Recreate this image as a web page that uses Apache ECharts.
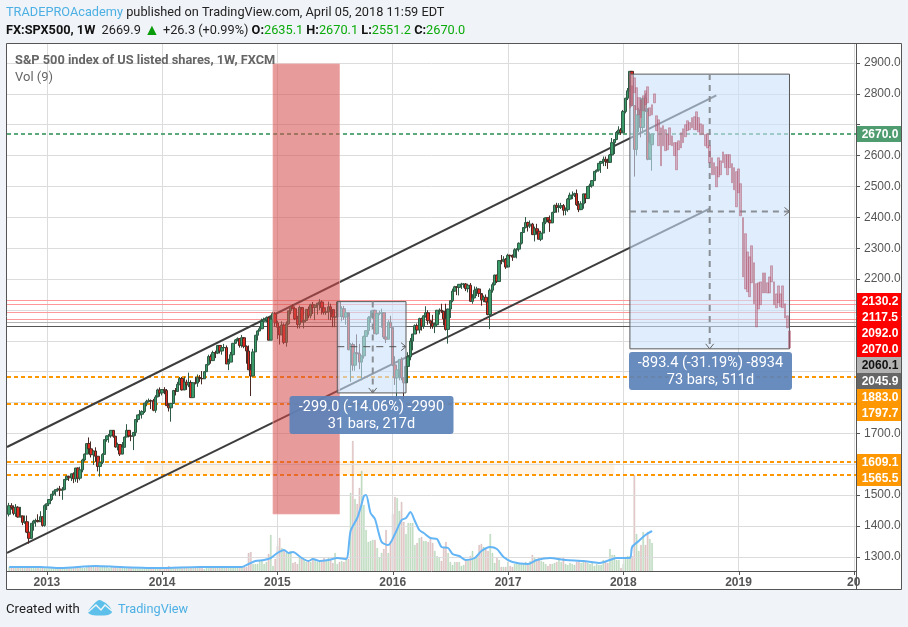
<!DOCTYPE html>
<html>
<head>
<meta charset="utf-8">
<title>FX:SPX500 1W</title>
<script src="https://cdn.jsdelivr.net/npm/echarts@6/dist/echarts.min.js"></script>
<style>
  html, body { margin: 0; padding: 0; background: #f0f3f7; }
  #chart { width: 908px; height: 627px; }
</style>
</head>
<body>
<div id="chart"></div>
<script>
// weekly bars, first category is the week of 2012-09-03 (no bar drawn on it)
const opens = [
  1438,1466,1460,1441,1461,1429,1433,1412,1414,1380,1360,1409,1416,1418,1414,1430,
  1402,1466,1472,1486,1503,1513,1518,1520,1516,1518,1551,1561,1556,1569,1553,1588,1555,1582,1614,1633,1667,1650,1631,1643,1626,1593,1606,1632,1680,1692,1692,1710,1691,1656,1664,1633,1655,1688,1710,1692,1691,1703,1745,1760,1762,1771,1798,1804,1806,1805,1775,1818,
  1841,1831,1842,1839,1790,1783,1797,1839,1836,1859,1878,1841,1866,1857,1865,1816,1864,1863,1881,1878,1877,1900,1923,1949,1936,1962,1960,1985,1967,1978,1978,1925,1931,1955,1992,2003,2007,1985,2010,1982,1967,1906,1886,1964,2018,2032,2039,2063,2068,2075,2002,2070,
  2088,2058,2044,2019,2051,1995,2055,2097,2110,2104,2071,2053,2108,2061,2066,2102,2081,2117,2108,2116,2122,2126,2107,2092,2094,2110,2101,2077,2077,2126,2079,2104,2077,2091,1971,1988,1921,1961,1958,1931,1951,2014,2033,2075,2079,2099,2023,2089,2090,2091,2012,2005,
  2060,2043,1922,1880,1906,1940,1880,1864,1917,1948,1999,2022,2049,2035,2072,2047,2081,2091,2065,2057,2046,2052,2099,2099,2096,2071,2037,2103,2130,2161,2175,2173,2183,2184,2184,2169,2180,2128,2139,2164,2168,2153,2133,2141,2126,2085,2164,2182,2213,2192,2260,2258,2264,
  2239,2277,2275,2271,2295,2297,2316,2351,2367,2383,2372,2378,2344,2363,2355,2329,2349,2384,2399,2391,2382,2416,2439,2432,2433,2438,2423,2425,2459,2472,2472,2477,2441,2425,2444,2476,2461,2500,2502,2519,2549,2553,2575,2581,2588,2582,2578,2602,2642,2652,2675,2683,
  2674,2743,2786,2810,2873,2762,2620,2732,2747,2691,2786,2752,2588,2635
];
const closes = [
  1466,1460,1441,1461,1429,1433,1412,1414,1380,1360,1409,1416,1418,1414,1430,1402,
  1466,1472,1486,1503,1513,1518,1520,1516,1518,1551,1561,1556,1569,1553,1588,1555,1582,1614,1633,1667,1650,1631,1643,1626,1593,1606,1632,1680,1692,1692,1710,1691,1656,1664,1633,1655,1688,1710,1692,1691,1703,1745,1760,1762,1771,1798,1804,1806,1805,1775,1818,1841,
  1831,1842,1839,1790,1783,1797,1839,1836,1859,1878,1841,1866,1857,1865,1816,1864,1863,1881,1878,1877,1900,1923,1949,1936,1962,1960,1985,1967,1978,1978,1925,1931,1955,1992,2003,2007,1985,2010,1982,1967,1906,1886,1964,2018,2032,2039,2063,2068,2075,2002,2070,2088,
  2058,2044,2019,2051,1995,2055,2097,2110,2104,2071,2053,2108,2061,2066,2102,2081,2117,2108,2116,2122,2126,2107,2092,2094,2110,2101,2077,2077,2126,2079,2104,2077,2091,1971,1988,1921,1961,1958,1931,1951,2014,2033,2075,2079,2099,2023,2089,2090,2091,2012,2005,2060,
  2043,1922,1880,1906,1940,1880,1864,1917,1948,1999,2022,2049,2035,2072,2047,2081,2091,2065,2057,2046,2052,2099,2099,2096,2071,2037,2103,2130,2161,2175,2173,2183,2184,2184,2169,2180,2128,2139,2164,2168,2153,2133,2141,2126,2085,2164,2182,2213,2192,2260,2258,2264,2239,
  2277,2275,2271,2295,2297,2316,2351,2367,2383,2372,2378,2344,2363,2355,2329,2349,2384,2399,2391,2382,2416,2439,2432,2433,2438,2423,2425,2459,2472,2472,2477,2441,2425,2444,2476,2461,2500,2502,2519,2549,2553,2575,2581,2588,2582,2578,2602,2642,2652,2675,2683,2674,
  2743,2786,2810,2873,2762,2620,2732,2747,2691,2786,2752,2588,2641,2670
];
const highs = [
  1475,1474,1467,1471,1464,1462,1433,1434,1434,1386,1409,1420,1424,1438,1448,1431,
  1470,1473,1486,1504,1514,1518,1524,1530,1526,1552,1564,1563,1570,1574,1588,1590,1592,1618,1635,1668,1687,1674,1645,1655,1626,1615,1636,1680,1694,1698,1710,1709,1690,1670,1665,1672,1690,1730,1711,1698,1705,1746,1760,1776,1775,1799,1809,1813,1810,1812,1824,1845,
  1849,1843,1850,1844,1798,1798,1841,1847,1867,1883,1883,1884,1874,1897,1872,1865,1884,1891,1889,1902,1902,1925,1955,1956,1968,1968,1986,1985,1984,1990,1985,1942,1964,1993,2006,2011,2009,2019,2006,1985,1985,1925,1974,2019,2034,2046,2072,2075,2079,2075,2078,2094,
  2093,2065,2046,2063,2057,2063,2097,2111,2119,2105,2081,2114,2101,2083,2102,2111,2120,2126,2118,2123,2135,2131,2115,2107,2127,2120,2085,2081,2129,2133,2112,2113,2103,2077,1993,1994,1976,2021,1990,1953,2017,2034,2080,2098,2100,2100,2097,2098,2104,2093,2076,2067,
  2081,2038,1950,1908,1940,1947,1882,1918,1963,2009,2022,2053,2056,2075,2075,2083,2112,2099,2066,2084,2059,2100,2105,2120,2094,2120,2104,2132,2169,2178,2177,2183,2188,2187,2187,2184,2187,2151,2176,2175,2169,2149,2147,2150,2128,2170,2189,2214,2214,2260,2278,2274,2268,
  2282,2279,2280,2300,2300,2319,2352,2368,2401,2386,2390,2382,2370,2379,2356,2352,2398,2400,2400,2406,2418,2441,2447,2446,2447,2443,2432,2463,2480,2484,2480,2490,2453,2452,2477,2474,2501,2509,2520,2550,2555,2576,2583,2597,2597,2590,2605,2657,2652,2680,2695,2689,
  2748,2787,2819,2873,2873,2763,2732,2755,2789,2787,2802,2741,2675,2670
];
const lows = [
  1431,1453,1435,1430,1427,1428,1403,1407,1377,1343,1358,1385,1398,1412,1414,1398,
  1398,1452,1465,1481,1498,1498,1512,1497,1485,1516,1548,1546,1546,1539,1543,1540,1548,1574,1609,1633,1635,1622,1598,1608,1577,1560,1601,1633,1673,1670,1686,1686,1654,1645,1627,1634,1656,1688,1687,1675,1646,1692,1736,1756,1748,1766,1788,1800,1779,1772,1767,1819,
  1819,1823,1827,1790,1771,1738,1798,1823,1836,1856,1839,1840,1841,1850,1815,1816,1859,1851,1867,1859,1878,1899,1920,1926,1935,1944,1957,1959,1955,1979,1925,1905,1931,1955,1990,1998,1978,1978,1976,1926,1906,1821,1886,1964,2001,2031,2040,2064,2060,2002,2002,2070,
  2047,2006,1988,2019,1989,1981,2052,2086,2103,2067,2040,2040,2061,2040,2067,2073,2073,2087,2067,2085,2099,2085,2085,2084,2068,2067,2044,2044,2077,2079,2063,2068,2052,1970,1867,1903,1903,1937,1908,1872,1942,2002,2020,2058,2072,2022,2019,2083,2042,2006,1993,2005,
  2043,1918,1857,1812,1872,1872,1810,1864,1891,1937,1969,2022,2022,2024,2033,2039,2075,2052,2039,2039,2025,2052,2085,2090,2050,2033,1991,2074,2125,2159,2148,2147,2168,2172,2161,2157,2127,2120,2138,2145,2142,2114,2125,2125,2083,2038,2156,2179,2187,2192,2248,2254,2233,
  2246,2265,2259,2272,2267,2289,2312,2351,2364,2354,2365,2344,2322,2344,2329,2323,2349,2378,2384,2353,2382,2414,2415,2416,2427,2406,2407,2418,2452,2459,2466,2437,2417,2428,2428,2446,2460,2491,2496,2520,2545,2548,2544,2566,2566,2557,2581,2606,2605,2650,2670,2667,
  2682,2737,2780,2808,2759,2532,2600,2676,2659,2672,2741,2585,2594,2551
];
const volumes = [
  4,3,4,4,3,4,3,4,4,4, 3,3,3,4,3,3,4,3,4,4, 4,3,4,4,3,3,3,3,4,3, 3,4,4,3,3,4,5,4,4,5,
  4,5,5,4,4,3,4,4,4,3, 4,3,3,3,4,4,3,4,3,3, 3,3,4,3,4,4,3,3,3,2, 3,4,5,4,3,4,4,4,4,3,
  4,4,3,3,3,4,3,3,2,3, 4,3,3,4,3,3,4,3,3,3, 3,3,4,3,4,4,4,4,18,19, 7,7,7,10,11,7,9,17,36,5,
  12,25,33,23,21,18,18,20,8,9, 7,15,13,12,9,10,9,13,12,9, 9,9,13,10,13,11,8,18,7,9, 10,9,12,12,78,130,72,67,83,100,
  66,41,29,30,31,31,23,14,18,22, 41,18,30,57,74,73,60,69,49,37, 48,48,48,26,28,33,34,30,30,29, 32,28,20,15,14,10,23,29,18,9,
  6,9,9,9,5,6,11,11,15,20, 14,16,26,27,24,23,20,37,18,8, 13,11,4,4,4,9,5,4,7,8, 8,7,7,9,7,10,16,14,12,13,
  10,9,7,5,7,7,8,9,13,9, 13,7,6,8,7,6,9,11,8,9, 10,8,7,9,5,7,6,6,11,10, 8,22,16,16,11,11,3,7,14,15,
  15,15,96,37,20,26,39,26,39,32,28
];
// Vol (9) line, read at the turning points
const volMaWeeks = [1,15,24,40,51,69,87,100,106,109,112,116,119,122,125,127,129,133,136,138,141,145,149,153,155,158,160,161,162,164,166,169,172,175,178,180,182,184,186,188,191,194,196,199,201,204,207,211,214,218,221,224,228,235,239,245,252,260,267,272,275,281,282,285,288,291];
const volMaValues = [4,4,3,5,4,3,4,4,4,7,10,11,13,18,21,18,19,13,10,12,10,11,13,12,40,53,67,75,76,58,52,29,26,37,51,53,59,50,41,38,33,32,24,23,17,15,11,13,20,24,22,14,9,7,11,13,11,10,8,11,13,13,24,30,36,40];

// projected bars pasted into the big box, first one sits on week index 281
const ghostStart = 281;
const ghostHighs = [2869,2826,2852,2820,2788,2781,2794,2810,2823,2755,2765,2800,2729,2716,2690,2697,2684,2668,2690,2664,2642,2642,2648,2674,2687,2700,2713,2707,2723,2726,2742,2723,2703,2700,2668,2671,2632,2593,2577,2564,2593,2583,2612,2603,2603,2603,2574,2561,2548,2557,2509,2399,2347,2288,2272,2308,2253,2185,2188,2191,2220,2220,2188,2207,2243,2191,2152,2178,2152,2178,2120,2081,2032];
const ghostLows = [2755,2762,2804,2749,2732,2723,2745,2765,2771,2729,2732,2771,2681,2632,2567,2632,2616,2619,2635,2632,2600,2554,2619,2625,2642,2661,2681,2684,2690,2684,2684,2677,2668,2668,2632,2625,2577,2538,2538,2499,2531,2538,2577,2561,2538,2561,2512,2489,2434,2480,2405,2207,2168,2159,2143,2188,2120,2045,2103,2117,2155,2155,2155,2155,2191,2117,2107,2123,2110,2107,2074,2042,1977];

const priceTicks = [1300,1400,1500,1600,1700,1800,1900,2000,2100,2200,2300,2400,2500,2600,2700,2800,2900];
const priceLabels = [1300,1400,1500,1700,2200,2300,2400,2500,2600,2800,2900];
const yearWeeks = ['2013-01-07','2014-01-06','2015-01-05','2016-01-04','2017-01-02','2018-01-01','2018-12-31','2019-12-30'];
const yearNames = ['2013','2014','2015','2016','2017','2018','2019','20'];

const redLevels = [2130.2,2117.5,2092.0,2070.0];
const orangeLevels = [1883.0,1797.7,1609.1,1565.5];
const greenLevel = 2670.0;
const greyLevel = 2060.1;
const darkLevel = 2045.9;

const tagValues = ['2670.0','2130.2','2117.5','2092.0','2070.0','2060.1','2045.9','1883.0','1797.7','1609.1','1565.5'];
const tagTops = [126,293,309,325,341,357,373,389,405,454,470];
const tagFills = ['#4f9c70','#ff0000','#ff0000','#ff0000','#ff0000','#b2b2b2','#666666','#ff9800','#ff9800','#ff9800','#ff9800'];

const upperChannel = [[0,1656],[320,2795]];
const lowerChannel = [[0,1313],[317,2428]];
const redZone = { from: 120, to: 149.6, high: 2897, low: 1439 };
const orangeBand = { from: 62, to: 274, high: 1609.1, low: 1565.5 };
const measureBoxes = [
  { from: 148.8, to: 179.8, high: 2127, low: 1831.2, midWeek: 164.5, midPrice: 1981 },
  { from: 280.8, to: 353.3, high: 2864, low: 1974, midWeek: 317, midPrice: 2419 }
];

const weeks = [];
for (let i = 0; i < 384; i++) {
  weeks.push(new Date(Date.UTC(2012, 8, 3 + i * 7)).toISOString().slice(0, 10));
}

const candleData = ['-'].concat(opens.map((o, i) => [o, closes[i], lows[i], highs[i]]));
const ghostData = new Array(ghostStart).fill('-').concat(ghostHighs.map((h, i) => [h, ghostLows[i], ghostLows[i], h]));
const volumeData = ['-'].concat(volumes.map((v, i) => ({
  value: v,
  itemStyle: closes[i] >= opens[i]
    ? { color: 'rgba(76,175,80,.2)', borderColor: 'rgba(60,140,70,.32)' }
    : { color: 'rgba(220,120,120,.22)', borderColor: 'rgba(140,80,80,.36)' }
})));

const uiFont = 'Roboto, "Noto Sans", sans-serif';
const axisFont = '"Liberation Sans", Arial, sans-serif';

function isYearWeek(index, value) {
  return yearWeeks.indexOf(value) >= 0;
}

function rectItem(api, box, style) {
  const a = api.coord([box.from, box.high]);
  const b = api.coord([box.to, box.low]);
  return { type: 'rect', shape: { x: a[0], y: a[1], width: b[0] - a[0], height: b[1] - a[1] }, style: style };
}

function renderMeasureBox(params, api) {
  const box = measureBoxes[params.dataIndex];
  const tl = api.coord([box.from, box.high]);
  const br = api.coord([box.to, box.low]);
  const mid = api.coord([box.midWeek, box.midPrice]);
  const dash = { stroke: '#8a8f96', lineWidth: 2, lineDash: [6, 5], fill: 'none' };
  const hDash = params.dataIndex === 0 ? { stroke: '#555', lineWidth: 1, lineDash: [7, 6], fill: 'none' } : dash;
  const chevron = { stroke: '#666', lineWidth: 1, fill: 'none' };
  return {
    type: 'group',
    children: [
      rectItem(api, box, { fill: 'rgba(203,225,250,.6)', stroke: '#5a5a5a', lineWidth: 1 }),
      { type: 'line', shape: { x1: tl[0], y1: mid[1], x2: br[0], y2: mid[1] }, style: hDash },
      { type: 'line', shape: { x1: mid[0], y1: tl[1], x2: mid[0], y2: br[1] }, style: dash },
      { type: 'polyline', shape: { points: [[br[0] - 5, mid[1] - 4], [br[0], mid[1]], [br[0] - 5, mid[1] + 4]] }, style: chevron },
      { type: 'polyline', shape: { points: [[mid[0] - 4, br[1] - 5], [mid[0], br[1]], [mid[0] + 4, br[1] - 5]] }, style: chevron }
    ]
  };
}

function levelLine(value, color, width, type) {
  return { yAxis: value, lineStyle: { color: color, width: width, type: type } };
}

const levelLines = redLevels.map(v => levelLine(v, '#ff9999', 1, 'solid'))
  .concat(orangeLevels.map(v => levelLine(v, '#ff9800', 2, [4, 3])))
  .concat([
    levelLine(greenLevel, '#5ea97c', 2, [4, 3]),
    levelLine(greyLevel, '#b2b2b2', 1, 'solid'),
    levelLine(darkLevel, '#555555', 1, 'solid')
  ]);

const gridLineStyle = { color: '#dcdcdc', width: 1, type: 'solid' };
const gridLines = priceTicks.map(p => ({ yAxis: p, lineStyle: gridLineStyle }))
  .concat(yearWeeks.map(w => ({ xAxis: w, lineStyle: gridLineStyle })));

function textEl(x, y, text, font, fill, z) {
  return { type: 'text', x: x, y: y, z: z || 50, silent: true, style: { text: text, font: font, fill: fill, verticalAlign: 'middle' } };
}

function labelBox(x, y, w, h, line1, line2) {
  return [
    { type: 'rect', z: 60, silent: true, shape: { x: x, y: y, width: w, height: h, r: 3 }, style: { fill: 'rgba(92,130,186,.92)' } },
    { type: 'text', z: 61, silent: true, x: x + w / 2, y: y + 11.5, style: { text: line1, font: '14.5px ' + uiFont, fill: '#fff', align: 'center', verticalAlign: 'middle' } },
    { type: 'text', z: 61, silent: true, x: x + w / 2, y: y + 28, style: { text: line2, font: '14.5px ' + uiFont, fill: '#fff', align: 'center', verticalAlign: 'middle' } }
  ];
}

const tagElements = [];
tagValues.forEach((t, i) => {
  tagElements.push({ type: 'rect', z: 70, silent: true, shape: { x: 857, y: tagTops[i], width: 44, height: 16 }, style: { fill: tagFills[i] } });
  tagElements.push({ type: 'text', z: 71, silent: true, x: 880, y: tagTops[i] + 8.5, style: { text: t, font: 'bold 12px ' + axisFont, fill: t === '2060.1' ? '#111' : '#fff', align: 'center', verticalAlign: 'middle' } });
});

const staticGraphics = [
  { type: 'rect', z: -10, silent: true, shape: { x: 857, y: 43.5, width: 44.5, height: 546 }, style: { fill: '#fff' } },
  { type: 'rect', z: -10, silent: true, shape: { x: 6.5, y: 571.5, width: 851, height: 18 }, style: { fill: '#fff' } },
  { type: 'rect', z: 40, silent: true, shape: { x: 6.5, y: 43.5, width: 895, height: 546 }, style: { fill: 'none', stroke: '#555', lineWidth: 1 } },
  { type: 'line', z: 40, silent: true, shape: { x1: 856.5, y1: 43.5, x2: 856.5, y2: 590 }, style: { stroke: '#555', lineWidth: 1 } },
  { type: 'line', z: 40, silent: true, shape: { x1: 6.5, y1: 571.5, x2: 856.5, y2: 571.5 }, style: { stroke: '#555', lineWidth: 1 } },
  {
    type: 'text', x: 6, y: 13, z: 50, silent: true,
    style: {
      text: '{a|TRADEPROAcademy}{b| published on TradingView.com, April 05, 2018 11:59 EDT}',
      verticalAlign: 'middle',
      rich: {
        a: { font: '12.75px ' + uiFont, fill: '#4db0e4' },
        b: { font: '12.75px ' + uiFont, fill: '#222' }
      }
    }
  },
  {
    type: 'text', x: 6, y: 31, z: 50, silent: true,
    style: {
      text: '{k|FX:SPX500, 1W}{t|  2669.9 }{g|\u25B2}{t| +26.3 (+0.99%) }{k|O:}{v|2635.1 }{k|H:}{v|2670.1 }{k|L:}{v|2551.2 }{k|C:}{v|2670.0}',
      verticalAlign: 'middle',
      rich: {
        k: { font: 'bold 12.75px ' + uiFont, fill: '#111' },
        t: { font: '12.75px ' + uiFont, fill: '#222' },
        g: { font: '16px ' + uiFont, fill: '#0a9c0a' },
        v: { font: '12.75px ' + uiFont, fill: '#0cab0c' }
      }
    }
  },
  textEl(15, 61, 'S&P 500 index of US listed shares, 1W, FXCM', 'bold 12.8px ' + uiFont, '#666'),
  textEl(15, 78, 'Vol (9)', '13px ' + uiFont, '#666'),
  ...labelBox(289.5, 396, 164, 38, '-299.0 (-14.06%) -2990', '31 bars, 217d'),
  ...labelBox(629, 352, 163, 38, '-893.4 (-31.19%) -8934', '73 bars, 511d'),
  ...tagElements,
  textEl(6, 610, 'Created with', '13.2px ' + uiFont, '#222'),
  { type: 'polygon', z: 50, silent: true, shape: { smooth: 0.3, points: [[88, 612], [93, 605], [99, 600], [104, 602], [109, 606], [112, 612], [108, 615], [92, 615]] }, style: { fill: '#5cc0ea' } },
  { type: 'polyline', z: 51, silent: true, shape: { points: [[88, 612], [96, 605], [101, 610], [105, 605], [112, 611]] }, style: { stroke: '#f0f3f7', lineWidth: 1.5, fill: 'none' } },
  textEl(118, 610, 'TradingView', '12.75px ' + uiFont, '#4db0e4')
];

const chart = echarts.init(document.getElementById('chart'));
chart.setOption({
  animation: false,
  backgroundColor: '#f0f3f7',
  grid: { left: 7, right: 52, top: 43, bottom: 56, show: true, backgroundColor: '#fff', borderWidth: 0 },
  xAxis: {
    type: 'category',
    data: weeks,
    boundaryGap: false,
    axisLine: { show: false },
    axisTick: { show: false },
    axisLabel: {
      interval: isYearWeek,
      margin: 6,
      hideOverlap: false,
      color: '#555',
      fontFamily: axisFont,
      fontSize: 12,
      fontWeight: 'bold',
      formatter: v => yearNames[yearWeeks.indexOf(v)]
    },
    splitLine: { show: false }
  },
  yAxis: [
    {
      type: 'value',
      position: 'right',
      min: 1254.3,
      max: 2964.8,
      axisLine: { show: false },
      axisTick: { show: true, length: 4, lineStyle: { color: '#555' }, customValues: priceTicks },
      axisLabel: {
        show: true,
        margin: 8,
        color: '#555',
        fontFamily: axisFont,
        fontSize: 12,
        customValues: priceLabels,
        formatter: v => v.toFixed(1)
      },
      splitLine: { show: false }
    },
    { type: 'value', min: 0, max: 528, show: false, splitLine: { show: false } }
  ],
  series: [
    {
      name: 'band',
      type: 'custom',
      z: 2,
      silent: true,
      data: [[0]],
      renderItem: (params, api) => rectItem(api, orangeBand, { fill: 'rgba(255,152,0,.1)' })
    },
    {
      name: 'Volume',
      type: 'bar',
      yAxisIndex: 1,
      z: 2,
      silent: true,
      barWidth: 1.6,
      itemStyle: { borderWidth: 0.6 },
      data: volumeData
    },
    {
      name: 'gridlines',
      type: 'line',
      z: 3,
      silent: true,
      data: [],
      markLine: { z: 3, silent: true, symbol: 'none', label: { show: false }, animation: false, data: gridLines }
    },
    {
      name: 'levels',
      type: 'line',
      z: 3,
      silent: true,
      data: [],
      markLine: { z: 3, silent: true, symbol: 'none', label: { show: false }, animation: false, data: levelLines }
    },
    {
      name: 'Vol MA',
      type: 'line',
      yAxisIndex: 1,
      z: 3,
      silent: true,
      symbol: 'none',
      smooth: 0.25,
      lineStyle: { color: '#64b5f6', width: 2 },
      data: volMaWeeks.map((w, i) => [w, volMaValues[i]])
    },
    {
      name: 'upper',
      type: 'line',
      z: 3,
      silent: true,
      symbol: 'none',
      lineStyle: { color: '#3d3d3d', width: 2 },
      data: upperChannel
    },
    {
      name: 'lower',
      type: 'line',
      z: 3,
      silent: true,
      symbol: 'none',
      lineStyle: { color: '#3d3d3d', width: 2 },
      data: lowerChannel
    },
    {
      name: 'FX:SPX500',
      type: 'candlestick',
      z: 4,
      silent: true,
      barWidth: 3,
      itemStyle: {
        color: '#3a9a68',
        color0: '#e0281e',
        borderColor: '#2f5a45',
        borderColor0: '#4a2a24',
        borderWidth: 1
      },
      data: candleData
    },
    {
      name: 'redzone',
      type: 'custom',
      z: 5,
      silent: true,
      data: [[0]],
      renderItem: (params, api) => rectItem(api, redZone, { fill: 'rgba(214,72,72,.55)', stroke: 'rgba(240,170,170,.7)', lineWidth: 1 })
    },
    {
      name: 'boxes',
      type: 'custom',
      z: 6,
      silent: true,
      data: measureBoxes.map((b, i) => [i]),
      renderItem: renderMeasureBox
    },
    {
      name: 'projection',
      type: 'candlestick',
      z: 7,
      silent: true,
      barWidth: 2.2,
      itemStyle: {
        color: 'rgba(185,85,115,.42)',
        color0: 'rgba(185,85,115,.42)',
        borderColor: 'rgba(175,90,110,.45)',
        borderColor0: 'rgba(175,90,110,.45)',
        borderWidth: 1
      },
      data: ghostData
    }
  ],
  graphic: { elements: staticGraphics }
});

// year ticks under the plot, placed from the axis once the chart knows its scale
const yearTicks = yearWeeks.map(w => {
  const x = Math.round(chart.convertToPixel({ xAxisIndex: 0 }, w)) + 0.5;
  return { type: 'line', z: 41, silent: true, shape: { x1: x, y1: 571, x2: x, y2: 575 }, style: { stroke: '#555', lineWidth: 1 } };
});
chart.setOption({ graphic: { elements: staticGraphics.concat(yearTicks) } });

window.addEventListener('resize', function () { chart.resize(); });
</script>
</body>
</html>
